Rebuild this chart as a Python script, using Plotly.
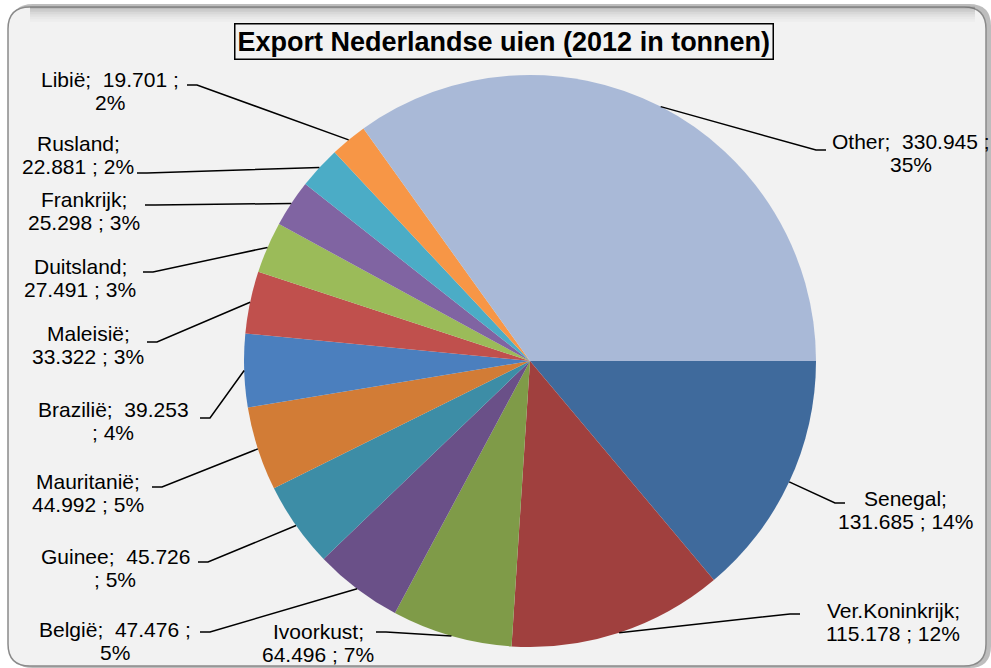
import math
import plotly.graph_objects as go

# export of Dutch onions 2012, tonnes (clockwise from 3 o'clock)
countries = ['Senegal', 'Ver.Koninkrijk', 'Ivoorkust', 'België', 'Guinee', 'Mauritanië',
             'Brazilië', 'Maleisië', 'Duitsland', 'Frankrijk', 'Rusland', 'Libië', 'Other']
tonnes = [131685, 115178, 64496, 47476, 45726, 44992,
          39253, 33322, 27491, 25298, 22881, 19701, 330945]
# percentages as printed on the chart
percent = [14, 12, 7, 5, 5, 5, 4, 3, 3, 3, 2, 2, 35]
colors = ['#3F6A9C', '#A0403E', '#7F9B48', '#6A5088', '#3D8DA6', '#D27C36',
          '#4B7FBE', '#C0504D', '#9BBB59', '#8064A2', '#4BACC6', '#F79646', '#A9B9D7']
# where Excel wrapped each data label
wrap = ['name', 'name', 'name', 'pct', 'value', 'name',
        'value', 'name', 'name', 'name', 'name', 'pct', 'pct']

# label layout in pixels: text block centre and leader-line end
label_pos = [(905, 510), (893, 622), (318, 643), (115, 641), (115, 568), (88, 493),
             (113, 421), (88, 345), (80, 278), (84, 211), (78, 155), (110, 91), (911, 153)]
line_end = [(845, 503), (800, 614), (376, 632), (200, 632), (198, 562), (152, 487),
            (200, 418), (147, 342), (143, 272), (145, 205), (137, 173), (187, 85), (826, 150)]

W, H = 991, 668
CX, CY, R = 530, 361, 286
BG = '#F2F2F2'
FONT = 'Liberation Sans, Arial'


def px(x):
    return x / W


def py(y):
    return 1 - y / H


def nl(v):
    return f'{v:,}'.replace(',', '.')


total = sum(tonnes)

fig = go.Figure()
fig.add_trace(go.Pie(
    labels=countries, values=tonnes, sort=False, direction='clockwise', rotation=90,
    marker=dict(colors=colors, line=dict(width=0)),
    textinfo='none', hoverinfo='skip', showlegend=False,
    domain=dict(x=[px(CX - R), px(CX + R)], y=[py(CY + R), py(CY - R)])
))

shapes = []


def rounded_rect(x0, y0, x1, y1, r):
    return (f'M {px(x0 + r)} {py(y0)} L {px(x1 - r)} {py(y0)} Q {px(x1)} {py(y0)} {px(x1)} {py(y0 + r)} '
            f'L {px(x1)} {py(y1 - r)} Q {px(x1)} {py(y1)} {px(x1 - r)} {py(y1)} '
            f'L {px(x0 + r)} {py(y1)} Q {px(x0)} {py(y1)} {px(x0)} {py(y1 - r)} '
            f'L {px(x0)} {py(y0 + r)} Q {px(x0)} {py(y0)} {px(x0 + r)} {py(y0)} Z')


# chart frame with a soft shadow
shapes.append(dict(type='path', xref='paper', yref='paper', layer='below',
                   path=rounded_rect(11, 4, 991, 668, 22), fillcolor='#BDBDBD', line=dict(width=0)))
shapes.append(dict(type='path', xref='paper', yref='paper', layer='below',
                   path=rounded_rect(8, 7, 986, 666, 22), fillcolor=BG,
                   line=dict(color='#8A8A8A', width=1.5)))
for i, op in enumerate([0.35, 0.25, 0.17, 0.11, 0.06, 0.03]):
    y = 8 + i * 2.5
    shapes.append(dict(type='line', xref='paper', yref='paper', layer='below',
                       x0=px(30), x1=px(975), y0=py(y), y1=py(y),
                       line=dict(color='rgba(90,90,90,%.2f)' % op, width=2.5)))

annotations = []
cum = 0
for name, v, p, brk, (tx, ty), (ex, ey) in zip(countries, tonnes, percent, wrap, label_pos, line_end):
    mid = (cum + v / 2) / total * 2 * math.pi
    cum += v
    ax = CX + R * math.cos(mid)
    ay = CY + R * math.sin(mid)
    elbow = ex + (10 if ax > ex else -10)
    shapes.append(dict(type='path', xref='paper', yref='paper',
                       path=f'M {px(ex)} {py(ey)} L {px(elbow)} {py(ey)} L {px(ax)} {py(ay)}',
                       line=dict(color='black', width=1.5)))
    pct = f'{p}%'
    if brk == 'name':
        lines = [f'{name};', f'{nl(v)} ; {pct}']
    elif brk == 'value':
        lines = [f'{name};  {nl(v)}', f'; {pct}']
    else:
        lines = [f'{name};  {nl(v)} ;', pct]
    for k, t in enumerate(lines):
        annotations.append(dict(x=px(tx), y=py(ty + (k - 0.5) * 23), xref='paper', yref='paper',
                                text=t, showarrow=False, xanchor='center', yanchor='middle',
                                font=dict(family=FONT, size=21, color='black')))

annotations.append(dict(x=px(504), y=py(23), xref='paper', yref='paper', showarrow=False,
                        xanchor='center', yanchor='top',
                        text='<b>Export Nederlandse uien (2012 in tonnen)</b>',
                        font=dict(family=FONT, size=27, color='black'),
                        bordercolor='black', borderwidth=1.5, borderpad=2, bgcolor=BG))

fig.update_layout(width=W, height=H, margin=dict(l=0, r=0, t=0, b=0),
                  paper_bgcolor='white', plot_bgcolor='white',
                  shapes=shapes, annotations=annotations)

fig.write_html('out.html', config={'displayModeBar': False},
               post_script="document.body.style.margin='0';document.body.style.overflow='hidden';")
